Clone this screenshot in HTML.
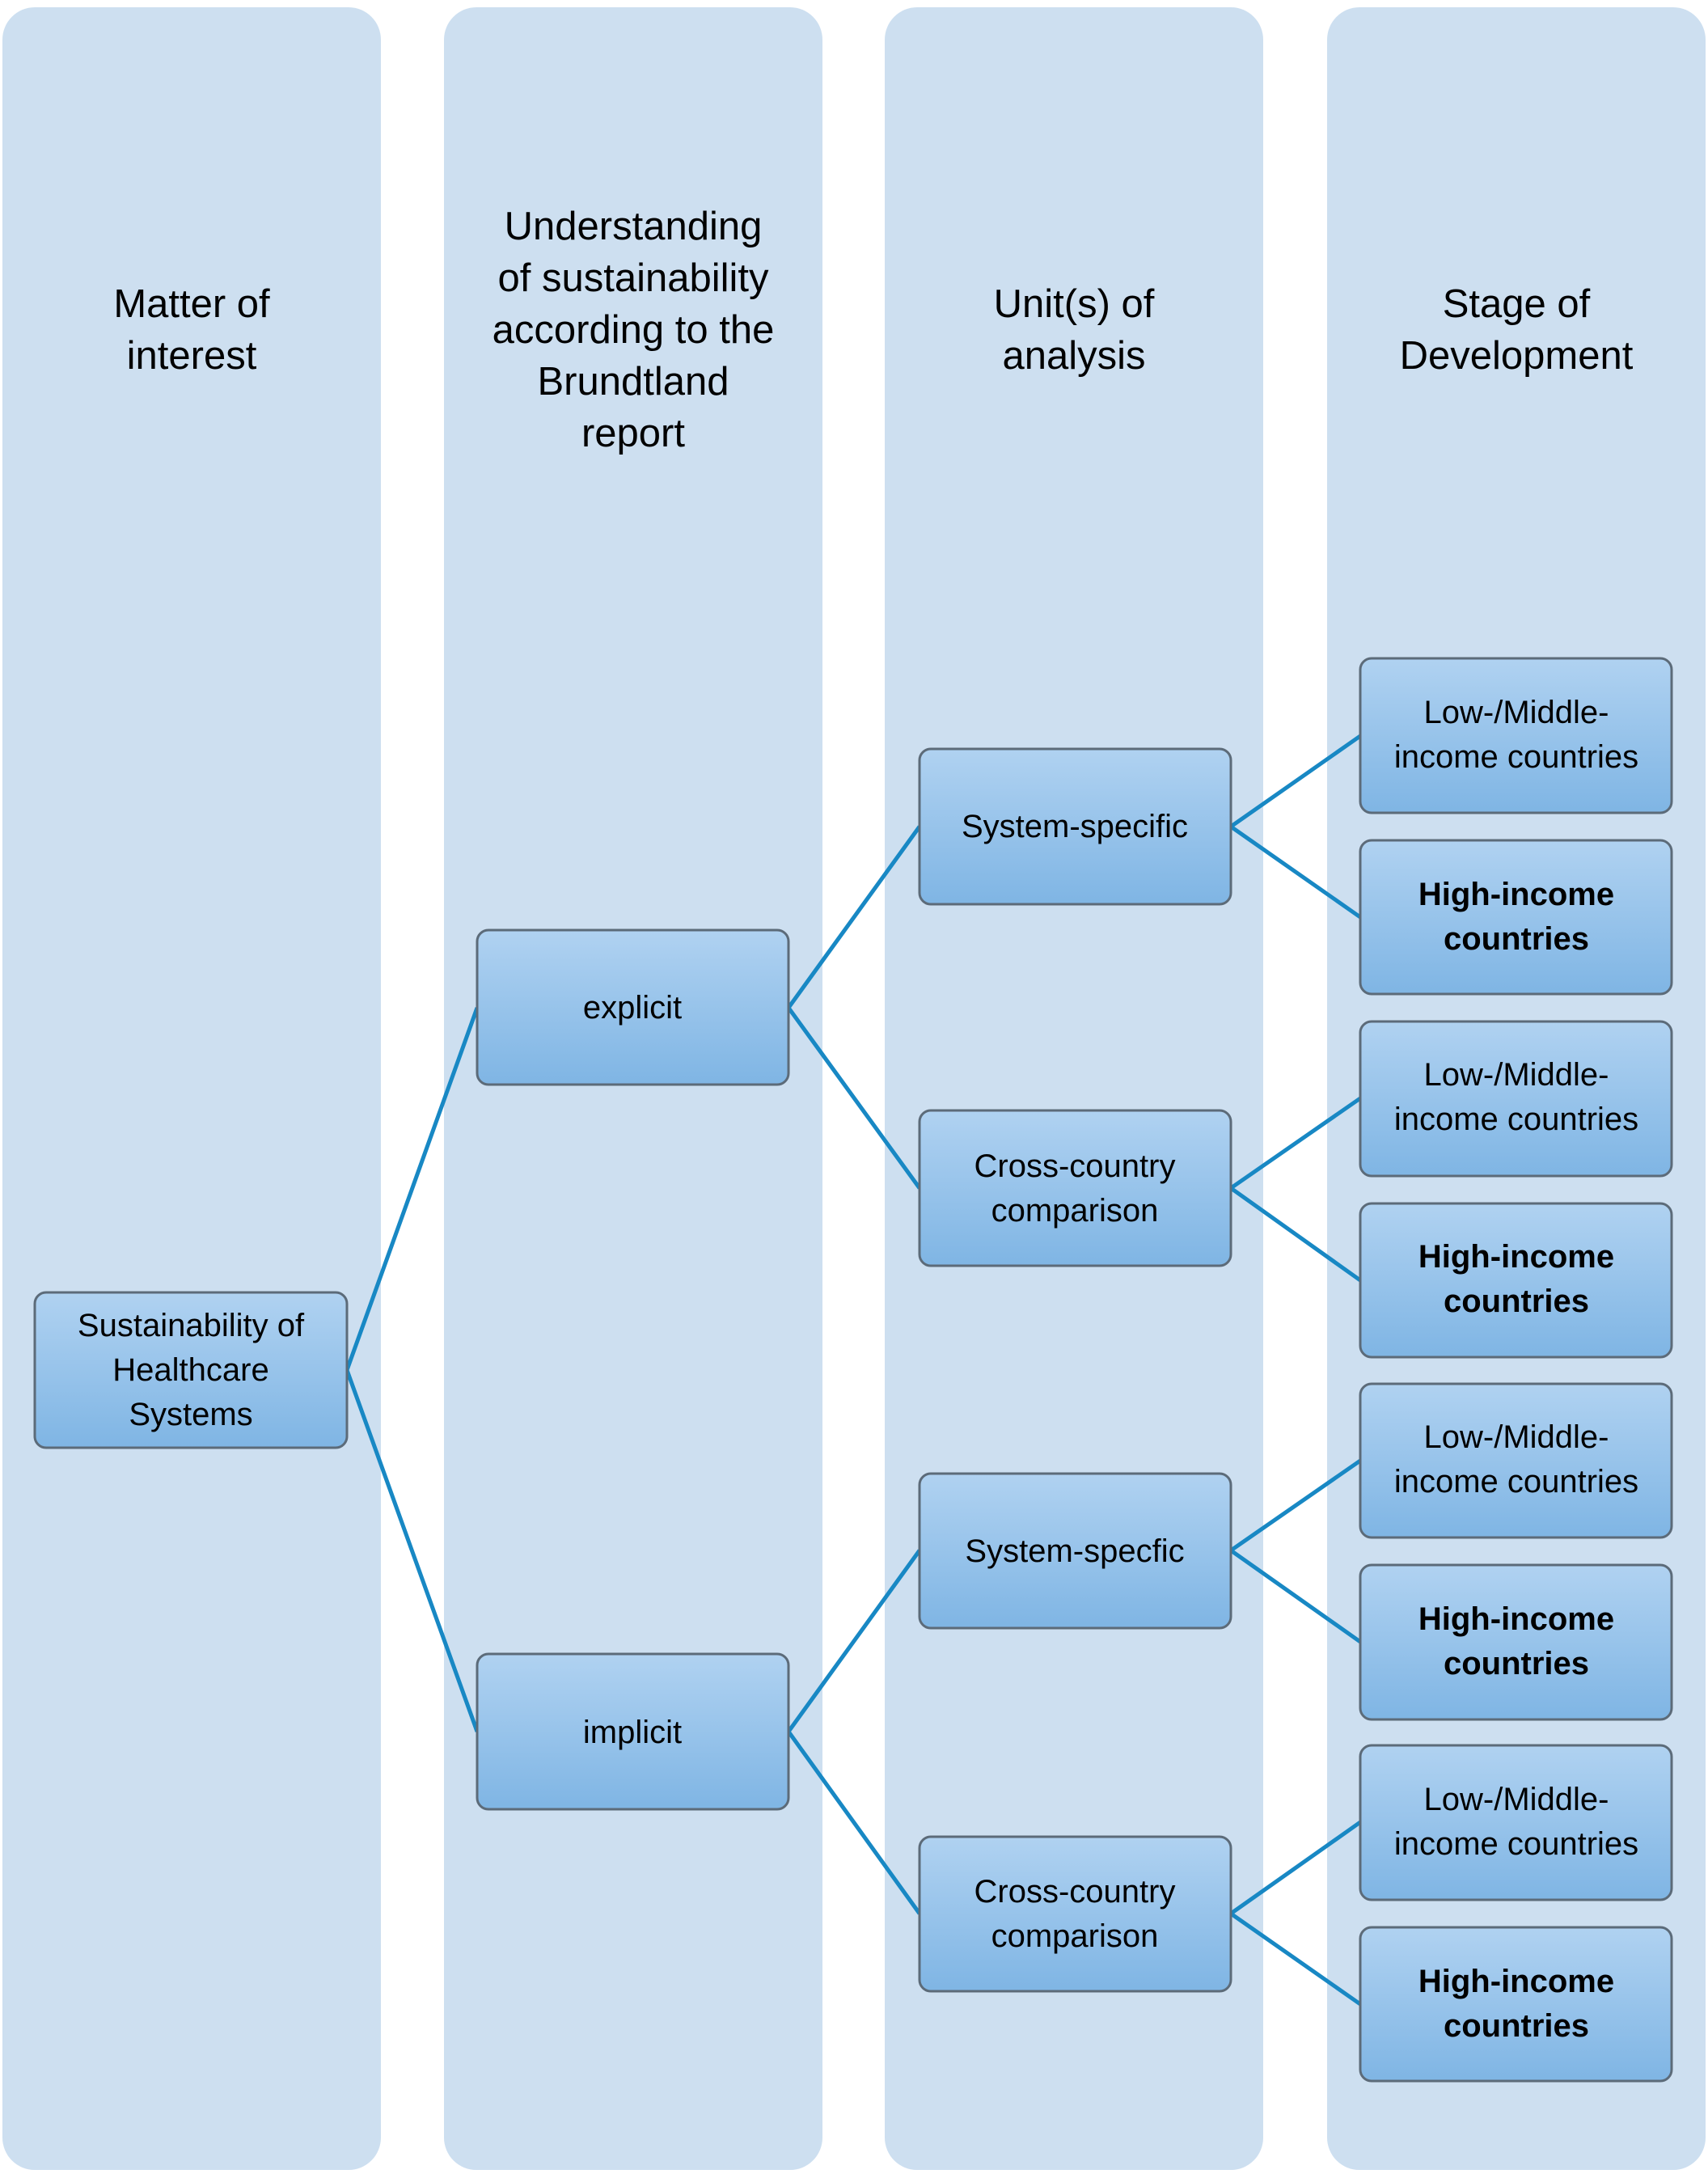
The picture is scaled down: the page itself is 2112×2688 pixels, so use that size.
<!DOCTYPE html>
<html><head><meta charset="utf-8"><style>
html,body{margin:0;padding:0;background:#fff;}
svg{display:block;}
text{font-family:"Liberation Sans",sans-serif;fill:#000;}
</style></head><body>
<svg width="2112" height="2688" viewBox="0 0 2112 2688" xmlns="http://www.w3.org/2000/svg">
<defs>
<linearGradient id="g" x1="0" y1="0" x2="0" y2="1">
<stop offset="0" stop-color="#b0d2f1"/><stop offset="1" stop-color="#7fb5e4"/>
</linearGradient>
</defs>
<rect x="3" y="9" width="468" height="2674" rx="40" fill="#cddff0"/>
<rect x="549" y="9" width="468" height="2674" rx="40" fill="#cddff0"/>
<rect x="1094" y="9" width="468" height="2674" rx="40" fill="#cddff0"/>
<rect x="1641" y="9" width="468" height="2674" rx="40" fill="#cddff0"/>

<g font-size="49" text-anchor="middle">
<text x="237" y="392">Matter of</text><text x="237" y="456">interest</text>
<text x="783" y="296">Understanding</text><text x="783" y="360">of sustainability</text><text x="783" y="424">according to the</text><text x="783" y="488">Brundtland</text><text x="783" y="552">report</text>
<text x="1328" y="392">Unit(s) of</text><text x="1328" y="456">analysis</text>
<text x="1875" y="392">Stage of</text><text x="1875" y="456">Development</text>
</g>

<g stroke="#1888c4" stroke-width="5" fill="none">
<polyline points="590,1246 429,1694 590,2141"/>
<polyline points="1137,1022 975,1246 1137,1469"/>
<polyline points="1137,1917 975,2141 1137,2366"/>
<polyline points="1682,910 1522,1022 1682,1134"/>
<polyline points="1682,1358 1522,1469 1682,1583"/>
<polyline points="1682,1806 1522,1917 1682,2030"/>
<polyline points="1682,2253 1522,2366 1682,2478"/>
</g>

<g fill="url(#g)" stroke="#5c6b79" stroke-width="3">
<rect x="43" y="1598" width="386" height="192" rx="14"/>
<rect x="590" y="1150" width="385" height="191" rx="14"/>
<rect x="590" y="2045" width="385" height="192" rx="14"/>
<rect x="1137" y="926" width="385" height="192" rx="14"/>
<rect x="1137" y="1373" width="385" height="192" rx="14"/>
<rect x="1137" y="1822" width="385" height="191" rx="14"/>
<rect x="1137" y="2271" width="385" height="191" rx="14"/>
<rect x="1682" y="814" width="385" height="191" rx="14"/>
<rect x="1682" y="1039" width="385" height="190" rx="14"/>
<rect x="1682" y="1263" width="385" height="191" rx="14"/>
<rect x="1682" y="1488" width="385" height="190" rx="14"/>
<rect x="1682" y="1711" width="385" height="190" rx="14"/>
<rect x="1682" y="1935" width="385" height="191" rx="14"/>
<rect x="1682" y="2158" width="385" height="191" rx="14"/>
<rect x="1682" y="2383" width="385" height="190" rx="14"/>
</g>

<g font-size="40" text-anchor="middle">
<text x="236" y="1652">Sustainability of</text><text x="236" y="1707">Healthcare</text><text x="236" y="1762">Systems</text>
<text x="782" y="1259">explicit</text>
<text x="782" y="2155">implicit</text>
<text x="1329" y="1035">System-specific</text>
<text x="1329" y="1455">Cross-country</text><text x="1329" y="1510">comparison</text>
<text x="1329" y="1931">System-specfic</text>
<text x="1329" y="2352">Cross-country</text><text x="1329" y="2407">comparison</text>
<g>
<text x="1875" y="894">Low-/Middle-</text><text x="1875" y="949">income countries</text>
<text x="1875" y="1342">Low-/Middle-</text><text x="1875" y="1397">income countries</text>
<text x="1875" y="1790">Low-/Middle-</text><text x="1875" y="1845">income countries</text>
<text x="1875" y="2238">Low-/Middle-</text><text x="1875" y="2293">income countries</text>
</g>
<g font-weight="bold">
<text x="1875" y="1119">High-income</text><text x="1875" y="1174">countries</text>
<text x="1875" y="1567">High-income</text><text x="1875" y="1622">countries</text>
<text x="1875" y="2015">High-income</text><text x="1875" y="2070">countries</text>
<text x="1875" y="2463">High-income</text><text x="1875" y="2518">countries</text>
</g>
</g>
</svg>
</body></html>
